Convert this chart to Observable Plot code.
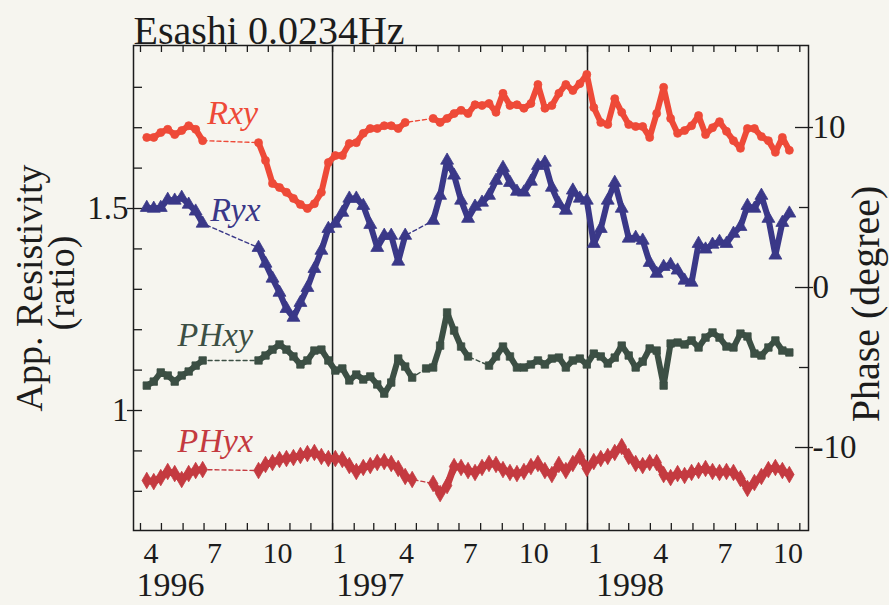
<!DOCTYPE html>
<html><head><meta charset="utf-8">
<script src="https://cdn.jsdelivr.net/npm/d3@7"></script>
<script src="https://cdn.jsdelivr.net/npm/@observablehq/plot@0.6"></script>
<style>
html,body{margin:0;padding:0;background:#f6f5ef;}
#chart{width:889px;height:605px;overflow:hidden;}
</style></head><body><div id="chart"></div>
<script>
const dates = ["1996-04-10","1996-04-20","1996-04-30","1996-05-10","1996-05-20","1996-05-30","1996-06-09","1996-06-19","1996-06-29","1996-07-09",
"1996-07-19","1996-07-29","1996-08-08","1996-08-18","1996-08-28","1996-09-07","1996-09-17","1996-09-27","1996-10-07","1996-10-17",
"1996-10-27","1996-11-06","1996-11-16","1996-11-26","1996-12-06","1996-12-16","1996-12-26","1997-01-05","1997-01-15","1997-01-25",
"1997-02-04","1997-02-14","1997-02-24","1997-03-06","1997-03-16","1997-03-26","1997-04-05","1997-04-15","1997-04-25","1997-05-05",
"1997-05-15","1997-05-25","1997-06-04","1997-06-14","1997-06-24","1997-07-04","1997-07-14","1997-07-24","1997-08-03","1997-08-13",
"1997-08-23","1997-09-02","1997-09-12","1997-09-22","1997-10-02","1997-10-12","1997-10-22","1997-11-01","1997-11-11","1997-11-21",
"1997-12-01","1997-12-11","1997-12-21","1997-12-31","1998-01-10","1998-01-20","1998-01-30","1998-02-09","1998-02-19","1998-03-01",
"1998-03-11","1998-03-21","1998-03-31","1998-04-10","1998-04-20","1998-04-30","1998-05-10","1998-05-20","1998-05-30","1998-06-09",
"1998-06-19","1998-06-29","1998-07-09","1998-07-19","1998-07-29","1998-08-08","1998-08-18","1998-08-28","1998-09-07","1998-09-17",
"1998-09-27","1998-10-07","1998-10-17"];

// apparent resistivity ratios (left axis)
const rxy = [1.676,1.676,1.688,1.696,1.683,1.693,1.705,1.696,1.668,null,
null,null,null,null,null,null,1.663,1.619,1.562,1.552,
1.540,1.525,1.510,1.500,1.512,1.540,1.614,1.631,1.631,1.661,
1.663,1.686,1.698,1.698,1.705,1.705,1.698,1.713,null,null,
null,1.723,1.713,1.723,1.735,1.743,1.735,1.757,1.755,1.760,
1.738,1.785,1.755,1.757,1.748,1.760,1.807,1.748,1.755,1.785,
1.807,1.792,1.809,1.832,1.750,1.713,1.708,1.772,1.738,1.708,
1.703,1.703,1.676,1.735,1.800,1.723,1.686,1.693,1.705,1.730,
1.683,1.700,1.715,1.691,1.668,1.649,1.698,1.698,1.678,1.668,
1.639,1.676,1.644];

const ryx = [1.502,1.500,1.502,1.522,1.520,1.527,1.510,1.493,1.463,null,
null,null,null,null,null,null,1.403,1.364,1.327,1.292,
1.252,1.230,1.267,1.304,1.351,1.396,1.450,1.463,1.490,1.525,
1.525,1.507,1.460,1.403,1.433,1.433,1.369,1.433,null,null,
null,1.470,1.532,1.619,1.582,1.520,1.475,1.505,1.515,1.532,
1.569,1.601,1.564,1.542,1.540,1.567,1.606,1.614,1.552,1.512,
1.495,1.545,1.525,1.520,1.413,1.450,1.520,1.564,1.500,1.426,
1.428,1.421,1.366,1.339,1.356,1.361,1.347,1.322,1.317,1.413,
1.399,1.411,1.418,1.413,1.438,1.455,1.507,1.500,1.532,1.475,
1.384,1.465,1.488];

// phases in degrees (right axis)
const phxy = [-6.13,-5.88,-5.31,-5.50,-5.88,-5.50,-5.25,-4.88,-4.56,null,
null,null,null,null,null,null,-4.56,-4.25,-3.88,-3.56,
-3.88,-4.31,-4.81,-4.56,-3.94,-3.88,-4.56,-5.19,-5.06,-5.81,
-5.44,-5.75,-5.56,-6.06,-6.63,-5.94,-4.44,-4.94,-5.63,null,
-5.06,-5.00,-3.63,-1.56,-2.69,-3.69,-4.31,null,null,-4.88,
-4.31,-3.69,-4.31,-5.00,-5.00,-4.81,-4.56,-4.81,-4.44,-4.38,
-5.00,-4.56,-4.44,-4.81,-4.13,-4.31,-4.75,-4.38,-3.63,-4.25,
-5.00,-4.63,-3.81,-3.94,-6.13,-3.50,-3.44,-3.56,-3.31,-3.75,
-3.13,-2.81,-3.13,-3.69,-3.75,-2.88,-3.06,-4.13,-4.25,-3.75,
-3.31,-3.94,-4.06];

const phyx = [-12.06,-12.13,-11.88,-11.50,-11.63,-12.00,-11.63,-11.44,-11.38,null,
null,null,null,null,null,null,-11.44,-11.06,-10.94,-10.75,
-10.69,-10.63,-10.50,-10.38,-10.31,-10.56,-10.69,-10.69,-10.75,-11.13,
-11.50,-11.25,-11.13,-10.94,-10.88,-11.00,-11.31,-11.81,-12.00,null,
null,-12.25,-12.88,-12.38,-11.19,-11.25,-11.44,-11.56,-11.25,-11.00,
-11.06,-11.38,-11.56,-11.63,-11.50,-11.19,-11.00,-11.44,-11.69,-11.06,
-11.44,-11.00,-10.56,-11.31,-10.88,-10.69,-10.56,-10.31,-9.94,-10.56,
-11.00,-11.13,-10.94,-10.94,-11.69,-11.88,-11.63,-11.75,-11.56,-11.44,
-11.31,-11.50,-11.56,-11.50,-11.56,-11.94,-12.56,-12.19,-11.81,-11.38,
-11.25,-11.44,-11.69];

const monthLabelDates = ["1996-04-16","1996-07-16","1996-10-14","1997-01-11","1997-04-17","1997-07-17","1997-10-16","1998-01-12","1998-04-16","1998-07-17","1998-10-15"];
const monthLabels = ["4","7","10","1","4","7","10","1","4","7","10"];
const yearLabelDates = ["1996-05-14","1997-02-24","1998-03-03"];
const yearLabels = ["1996","1997","1998"];
const dividers = ["1997-01-01","1998-01-01"];
const ratioTicks = [1, 1.5];
const ratioMinor = [0.8, 0.9, 1.1, 1.2, 1.3, 1.4, 1.6, 1.7, 1.8];
const phaseTicks = [10, 0, -10];
const phaseMinor = [5, -5];

const seriesNames = ["Rxy", "Ryx", "PHxy", "PHyx"];
const seriesColors = ["#ee4a38", "#3a3888", "#3c4f44", "#c43a40"];
const labelDates = ["1996-08-11", "1996-08-15", "1996-07-17", "1996-07-17"];
const labelValues = [1.735, 1.495, -3.0, -9.63]; // Rxy,Ryx on ratio axis; PHxy,PHyx on phase axis

// phase axis (right) is drawn onto the ratio scale (left)
const toR = p => 1.30446 + 0.039604 * p;
const fromR = r => (r - 1.30446) / 0.039604;

const W = 889, H = 605, mL = 133, mR = 81, mT = 45, mB = 75;
const fw = W - mL - mR, fh = H - mT - mB;
const serif = "Liberation Serif, Times New Roman, serif";
const ink = "#1c1c1c";

const rows = dates.map((d, i) => ({
  date: new Date(d),
  Rxy: rxy[i],
  Ryx: ryx[i],
  PHxy: phxy[i] == null ? null : toR(phxy[i]),
  PHyx: phyx[i] == null ? null : toR(phyx[i])
}));

function seriesMarks(key, color, symbol, r, lw) {
  const defined = rows.filter(d => d[key] != null);
  return [
    Plot.line(defined, {x: "date", y: key, stroke: color, strokeWidth: 1.4, strokeDasharray: "4,3"}),
    Plot.line(rows, {x: "date", y: key, stroke: color, strokeWidth: lw, strokeLinejoin: "round", strokeLinecap: "round"}),
    Plot.dot(defined, {x: "date", y: key, symbol, r, fill: color, stroke: color, strokeWidth: 0.8})
  ];
}

const monthTicks = d3.utcMonth.range(new Date("1996-04-01"), new Date("1998-11-02"));
const labels = seriesNames.map((n, i) => ({
  name: n, color: seriesColors[i],
  date: new Date(labelDates[i]),
  v: i < 2 ? labelValues[i] : toR(labelValues[i])
}));

const chart = Plot.plot({
  width: W, height: H,
  marginLeft: mL, marginRight: mR, marginTop: mT, marginBottom: mB,
  style: {background: "#f6f5ef", fontFamily: serif},
  x: {type: "utc", domain: [new Date("1996-03-22"), new Date("1998-11-13T10:00")], axis: null},
  y: {domain: [0.703, 1.9035]},
  marks: [
    Plot.ruleX(dividers.map(d => new Date(d)), {stroke: ink, strokeWidth: 1.5}),
    Plot.tickX(monthTicks, {x: d => d, insetTop: fh - 7, stroke: ink, strokeWidth: 1.3}),
    Plot.tickX(monthTicks, {x: d => d, insetBottom: fh - 7, stroke: ink, strokeWidth: 1.3}),
    Plot.tickY(ratioMinor, {y: d => d, insetRight: fw - 9, stroke: ink, strokeWidth: 1.3}),
    Plot.tickY(ratioTicks, {y: d => d, insetLeft: -6, insetRight: fw - 9, stroke: ink, strokeWidth: 1.3}),
    Plot.tickY(phaseMinor.map(toR), {y: d => d, insetLeft: fw - 9, stroke: ink, strokeWidth: 1.3}),
    Plot.tickY(phaseTicks.map(toR), {y: d => d, insetLeft: fw - 13, insetRight: -5, stroke: ink, strokeWidth: 1.3}),
    ...seriesMarks("PHyx", seriesColors[3], "diamond", 5, 7),
    ...seriesMarks("PHxy", seriesColors[2], "square", 4.2, 6),
    ...seriesMarks("Ryx", seriesColors[1], "triangle", 4.8, 6),
    ...seriesMarks("Rxy", seriesColors[0], "circle", 4, 6),
    Plot.frame({stroke: ink, strokeWidth: 1.5}),
    Plot.axisY({anchor: "left", ticks: ratioTicks, tickSize: 0, tickPadding: 5,
      tickFormat: d => String(d), fontSize: 33, fontFamily: serif, fill: ink, label: null}),
    Plot.axisY({anchor: "right", ticks: phaseTicks.map(toR), tickSize: 0, tickPadding: 4,
      tickFormat: r => String(Math.round(fromR(r))), fontSize: 33, fontFamily: serif, fill: ink, label: null}),
    Plot.text(monthLabels, {x: (d, i) => new Date(monthLabelDates[i]), text: d => d, frameAnchor: "bottom",
      lineAnchor: "middle", dy: 23, fontSize: 30, fontFamily: serif, fill: ink}),
    Plot.text(yearLabels, {x: (d, i) => new Date(yearLabelDates[i]), text: d => d, frameAnchor: "bottom",
      lineAnchor: "middle", dy: 55, fontSize: 34, fontFamily: serif, fill: ink}),
    Plot.text(labels, {x: "date", y: "v", text: "name", fill: "color", fontSize: 34, fontStyle: "italic", fontFamily: serif}),
    Plot.text(["Esashi 0.0234Hz"], {text: d => d, frameAnchor: "top-left", textAnchor: "start", lineAnchor: "bottom", dy: -2,
      fontSize: 40, fontFamily: serif, fill: ink}),
    Plot.text(["App. Resistivity"], {text: d => d, frameAnchor: "left", textAnchor: "middle", lineAnchor: "bottom",
      rotate: -90, dx: -92, dy: 0, fontSize: 38, fontFamily: serif, fill: ink}),
    Plot.text(["(ratio)"], {text: d => d, frameAnchor: "left", textAnchor: "middle", lineAnchor: "bottom",
      rotate: -90, dx: -60, dy: -5, fontSize: 38, fontFamily: serif, fill: ink}),
    Plot.text(["Phase (degree)"], {text: d => d, frameAnchor: "right", textAnchor: "middle", lineAnchor: "bottom",
      rotate: -90, dx: 70, dy: 16, fontSize: 40, fontFamily: serif, fill: ink})
  ]
});
document.getElementById("chart").appendChild(chart);
</script>
</body></html>
